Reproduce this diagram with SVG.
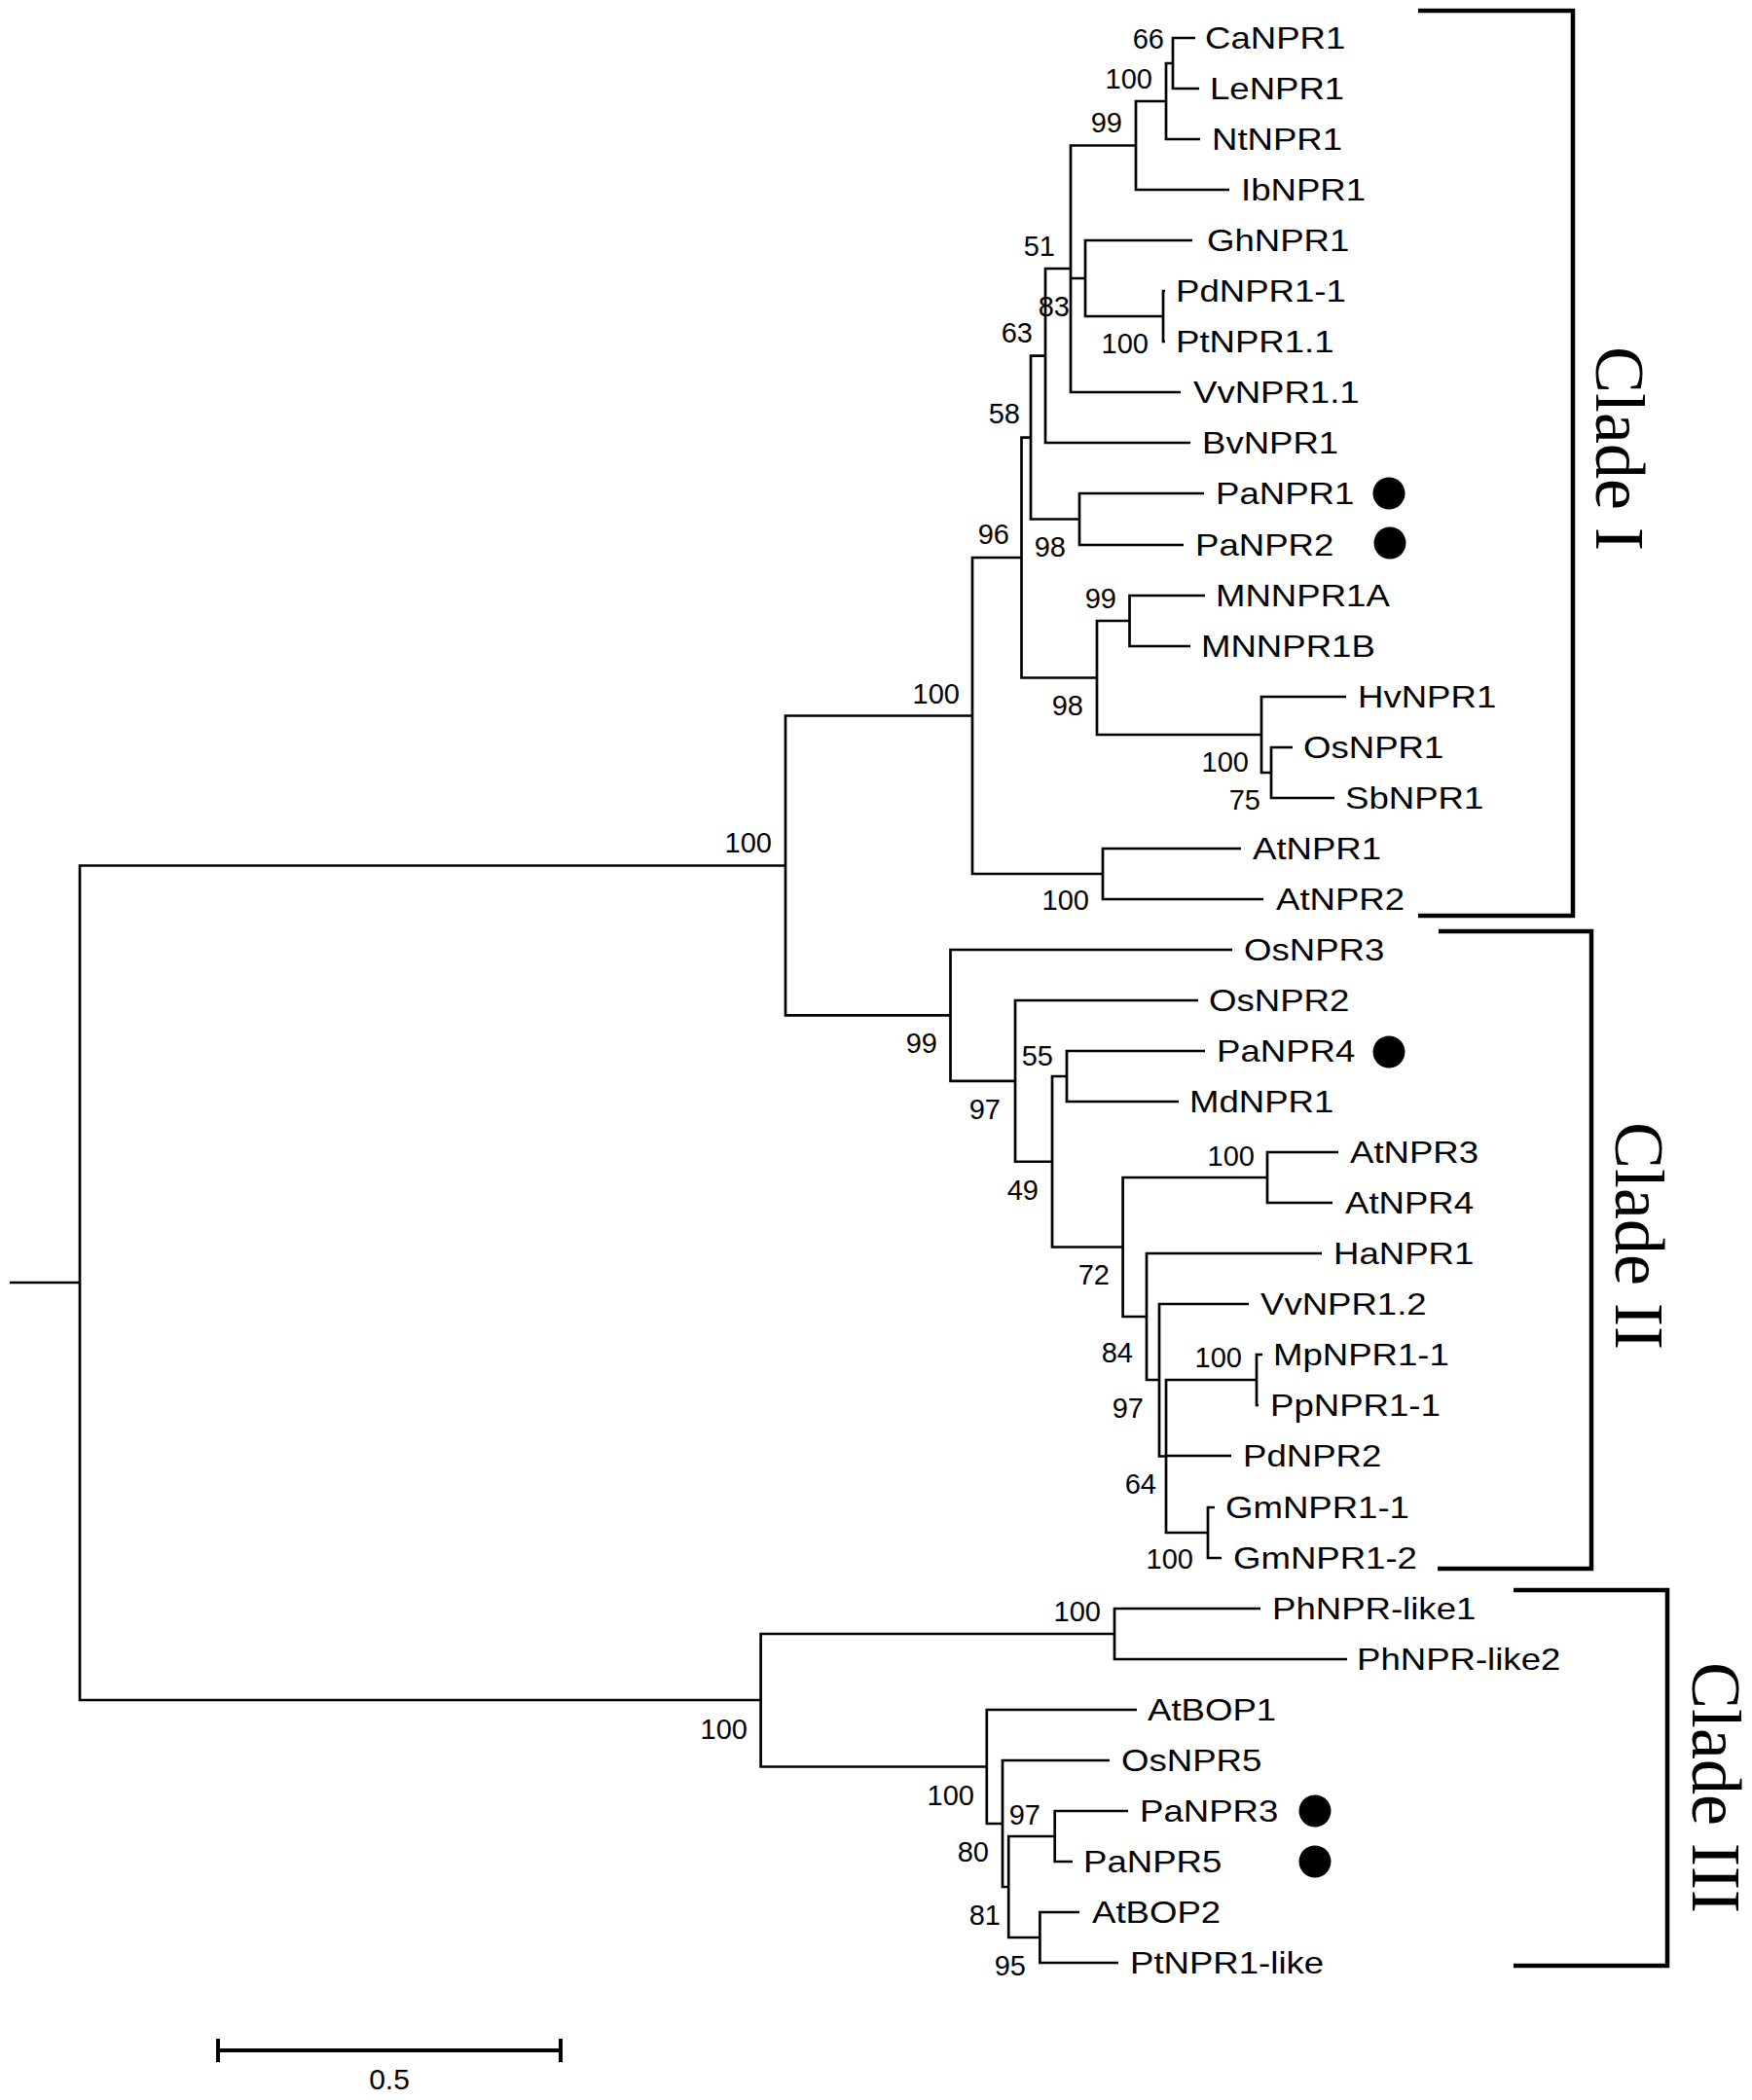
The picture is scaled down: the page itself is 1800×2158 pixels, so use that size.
<svg xmlns="http://www.w3.org/2000/svg" width="1800" height="2158" viewBox="0 0 1800 2158">
<style>
.br{fill:none;stroke:#000;stroke-width:2.7;stroke-linejoin:miter;stroke-linecap:butt}
.clb{fill:none;stroke:#000;stroke-width:4.5}
.lf{font-family:"Liberation Sans",Arial,sans-serif;font-size:31px;fill:#000}
.bs{font-family:"Liberation Sans",Arial,sans-serif;font-size:29px;fill:#000;text-anchor:end}
.cl{font-family:"Liberation Serif","Times New Roman",serif;font-size:72px;fill:#000;text-anchor:middle}
.dot{fill:#000}
</style>
<rect width="1800" height="2158" fill="#fff"/>
<g id="connectors">
<path class="br" d="M1228,39 H1205 V91 H1232"/>
<path class="br" d="M1205,65 H1198 V143 H1233"/>
<path class="br" d="M1198,104 H1167 V195 H1263"/>
<path class="br" d="M1197,299 H1195 V351 H1197"/>
<path class="br" d="M1225,247 H1115 V325 H1195"/>
<path class="br" d="M1167,149.5 H1100 V403 H1213 M1100,286 H1115"/>
<path class="br" d="M1100,276 H1074 V455 H1223"/>
<path class="br" d="M1237,507 H1109 V560 H1216"/>
<path class="br" d="M1074,365.6 H1059 V533.5 H1109"/>
<path class="br" d="M1238,612 H1160.5 V664 H1223"/>
<path class="br" d="M1328,768 H1306 V820 H1371"/>
<path class="br" d="M1383,716 H1296 V794 H1306"/>
<path class="br" d="M1160.5,638 H1127 V755 H1296"/>
<path class="br" d="M1059,449.6 H1049.5 V696.5 H1127"/>
<path class="br" d="M1275,872 H1133 V924 H1298"/>
<path class="br" d="M1049.5,573 H999 V898 H1133"/>
<path class="br" d="M1238,1080 H1096 V1132 H1211"/>
<path class="br" d="M1375,1184 H1302 V1236 H1369"/>
<path class="br" d="M1297,1392 H1291 V1444 H1293"/>
<path class="br" d="M1248,1549 H1241 V1601 H1255"/>
<path class="br" d="M1291,1418 H1198 V1575 H1241 M1198,1496 H1265"/>
<path class="br" d="M1283,1340 H1191 V1496.5 H1198"/>
<path class="br" d="M1358,1288 H1178 V1418 H1191"/>
<path class="br" d="M1302,1210 H1153.6 V1353 H1178"/>
<path class="br" d="M1096,1106 H1081 V1281.5 H1153.6"/>
<path class="br" d="M1231,1028 H1043 V1193.75 H1081"/>
<path class="br" d="M1266,976 H976.5 V1110.9 H1043"/>
<path class="br" d="M999,735.5 H807 V1043.4 H976.5"/>
<path class="br" d="M1295,1653 H1145 V1705 H1384"/>
<path class="br" d="M1109,1965 H1068.4 V2017 H1149"/>
<path class="br" d="M1159,1861 H1083.7 V1913 H1102"/>
<path class="br" d="M1083.7,1887 H1036.2 V1991 H1068.4"/>
<path class="br" d="M1140,1809 H1030 V1939 H1036.2"/>
<path class="br" d="M1168,1757 H1013.8 V1874 H1030"/>
<path class="br" d="M1145,1679 H781.6 V1815.5 H1013.8"/>
<path class="br" d="M807,889.5 H82 V1747 H781.6"/>
<path class="br" d="M10,1318 H82"/>
</g>
<g id="leaves">
<g id="leaf-CaNPR1"><text class="lf" transform="translate(1238 50) scale(1.18 1)">CaNPR1</text></g>
<g id="leaf-LeNPR1"><text class="lf" transform="translate(1243 102) scale(1.18 1)">LeNPR1</text></g>
<g id="leaf-NtNPR1"><text class="lf" transform="translate(1245 154) scale(1.18 1)">NtNPR1</text></g>
<g id="leaf-IbNPR1"><text class="lf" transform="translate(1275 206) scale(1.18 1)">IbNPR1</text></g>
<g id="leaf-GhNPR1"><text class="lf" transform="translate(1240 258) scale(1.18 1)">GhNPR1</text></g>
<g id="leaf-PdNPR1-1"><text class="lf" transform="translate(1208 310) scale(1.18 1)">PdNPR1-1</text></g>
<g id="leaf-PtNPR1.1"><text class="lf" transform="translate(1208 362) scale(1.18 1)">PtNPR1.1</text></g>
<g id="leaf-VvNPR1.1"><text class="lf" transform="translate(1226 414) scale(1.18 1)">VvNPR1.1</text></g>
<g id="leaf-BvNPR1"><text class="lf" transform="translate(1235 466) scale(1.18 1)">BvNPR1</text></g>
<g id="leaf-PaNPR1"><text class="lf" transform="translate(1249 518) scale(1.18 1)">PaNPR1</text><circle class="dot" cx="1427" cy="507" r="16.5"/></g>
<g id="leaf-PaNPR2"><text class="lf" transform="translate(1228 571) scale(1.18 1)">PaNPR2</text><circle class="dot" cx="1428" cy="558" r="16.5"/></g>
<g id="leaf-MNNPR1A"><text class="lf" transform="translate(1249 623) scale(1.18 1)">MNNPR1A</text></g>
<g id="leaf-MNNPR1B"><text class="lf" transform="translate(1234 675) scale(1.18 1)">MNNPR1B</text></g>
<g id="leaf-HvNPR1"><text class="lf" transform="translate(1395 727) scale(1.18 1)">HvNPR1</text></g>
<g id="leaf-OsNPR1"><text class="lf" transform="translate(1339 779) scale(1.18 1)">OsNPR1</text></g>
<g id="leaf-SbNPR1"><text class="lf" transform="translate(1382 831) scale(1.18 1)">SbNPR1</text></g>
<g id="leaf-AtNPR1"><text class="lf" transform="translate(1287 883) scale(1.18 1)">AtNPR1</text></g>
<g id="leaf-AtNPR2"><text class="lf" transform="translate(1311 935) scale(1.18 1)">AtNPR2</text></g>
<g id="leaf-OsNPR3"><text class="lf" transform="translate(1278 987) scale(1.18 1)">OsNPR3</text></g>
<g id="leaf-OsNPR2"><text class="lf" transform="translate(1242 1039) scale(1.18 1)">OsNPR2</text></g>
<g id="leaf-PaNPR4"><text class="lf" transform="translate(1250 1091) scale(1.18 1)">PaNPR4</text><circle class="dot" cx="1427" cy="1081" r="16.5"/></g>
<g id="leaf-MdNPR1"><text class="lf" transform="translate(1222 1143) scale(1.18 1)">MdNPR1</text></g>
<g id="leaf-AtNPR3"><text class="lf" transform="translate(1387 1195) scale(1.18 1)">AtNPR3</text></g>
<g id="leaf-AtNPR4"><text class="lf" transform="translate(1382 1247) scale(1.18 1)">AtNPR4</text></g>
<g id="leaf-HaNPR1"><text class="lf" transform="translate(1370 1299) scale(1.18 1)">HaNPR1</text></g>
<g id="leaf-VvNPR1.2"><text class="lf" transform="translate(1295 1351) scale(1.18 1)">VvNPR1.2</text></g>
<g id="leaf-MpNPR1-1"><text class="lf" transform="translate(1308 1403) scale(1.18 1)">MpNPR1-1</text></g>
<g id="leaf-PpNPR1-1"><text class="lf" transform="translate(1305 1455) scale(1.18 1)">PpNPR1-1</text></g>
<g id="leaf-PdNPR2"><text class="lf" transform="translate(1277 1507) scale(1.18 1)">PdNPR2</text></g>
<g id="leaf-GmNPR1-1"><text class="lf" transform="translate(1259 1560) scale(1.18 1)">GmNPR1-1</text></g>
<g id="leaf-GmNPR1-2"><text class="lf" transform="translate(1267 1612) scale(1.18 1)">GmNPR1-2</text></g>
<g id="leaf-PhNPR-like1"><text class="lf" transform="translate(1307 1664) scale(1.18 1)">PhNPR-like1</text></g>
<g id="leaf-PhNPR-like2"><text class="lf" transform="translate(1394 1716) scale(1.18 1)">PhNPR-like2</text></g>
<g id="leaf-AtBOP1"><text class="lf" transform="translate(1179 1768) scale(1.18 1)">AtBOP1</text></g>
<g id="leaf-OsNPR5"><text class="lf" transform="translate(1152 1820) scale(1.18 1)">OsNPR5</text></g>
<g id="leaf-PaNPR3"><text class="lf" transform="translate(1171 1872) scale(1.18 1)">PaNPR3</text><circle class="dot" cx="1351" cy="1861" r="16.5"/></g>
<g id="leaf-PaNPR5"><text class="lf" transform="translate(1113 1924) scale(1.18 1)">PaNPR5</text><circle class="dot" cx="1351" cy="1913" r="16.5"/></g>
<g id="leaf-AtBOP2"><text class="lf" transform="translate(1122 1976) scale(1.18 1)">AtBOP2</text></g>
<g id="leaf-PtNPR1-like"><text class="lf" transform="translate(1161 2028) scale(1.18 1)">PtNPR1-like</text></g>
</g>
<g id="bootstrap">
<text class="bs" x="1196" y="50">66</text>
<text class="bs" x="1184" y="91">100</text>
<text class="bs" x="1153" y="136">99</text>
<text class="bs" x="1084" y="263">51</text>
<text class="bs" x="1099" y="325">83</text>
<text class="bs" x="1180" y="363">100</text>
<text class="bs" x="1061" y="352">63</text>
<text class="bs" x="1048" y="435">58</text>
<text class="bs" x="1037" y="559">96</text>
<text class="bs" x="1095" y="572">98</text>
<text class="bs" x="1147" y="625">99</text>
<text class="bs" x="1113" y="735">98</text>
<text class="bs" x="1283" y="793">100</text>
<text class="bs" x="1295" y="832">75</text>
<text class="bs" x="1119" y="935">100</text>
<text class="bs" x="986" y="723">100</text>
<text class="bs" x="793" y="876">100</text>
<text class="bs" x="963" y="1082">99</text>
<text class="bs" x="1082" y="1095">55</text>
<text class="bs" x="1028" y="1150">97</text>
<text class="bs" x="1067" y="1233">49</text>
<text class="bs" x="1289" y="1198">100</text>
<text class="bs" x="1140" y="1320">72</text>
<text class="bs" x="1164" y="1400">84</text>
<text class="bs" x="1276" y="1405">100</text>
<text class="bs" x="1175" y="1457">97</text>
<text class="bs" x="1188" y="1535">64</text>
<text class="bs" x="1226" y="1612">100</text>
<text class="bs" x="1131" y="1666">100</text>
<text class="bs" x="768" y="1787">100</text>
<text class="bs" x="1001" y="1855">100</text>
<text class="bs" x="1069" y="1875">97</text>
<text class="bs" x="1016" y="1913">80</text>
<text class="bs" x="1028" y="1978">81</text>
<text class="bs" x="1054" y="2030">95</text>
</g>
<g id="clade-I">
<path class="clb" d="M1457,11 H1616 V941 H1457"/>
<text class="cl" transform="translate(1640 461) rotate(90)">Clade I</text>
</g>
<g id="clade-II">
<path class="clb" d="M1478,957 H1635 V1612 H1477"/>
<text class="cl" transform="translate(1660 1270) rotate(90)">Clade II</text>
</g>
<g id="clade-III">
<path class="clb" d="M1555,1634 H1713 V2020 H1555"/>
<text class="cl" transform="translate(1739 1837) rotate(90)">Clade III</text>
</g>
<g id="scale-bar">
<path fill="none" stroke="#000" stroke-width="4" d="M224,2107 H576 M224,2095 V2119 M576,2095 V2119"/>
<text x="400" y="2147" font-family="Liberation Sans, Arial, sans-serif" font-size="30" text-anchor="middle">0.5</text>
</g>
</svg>
